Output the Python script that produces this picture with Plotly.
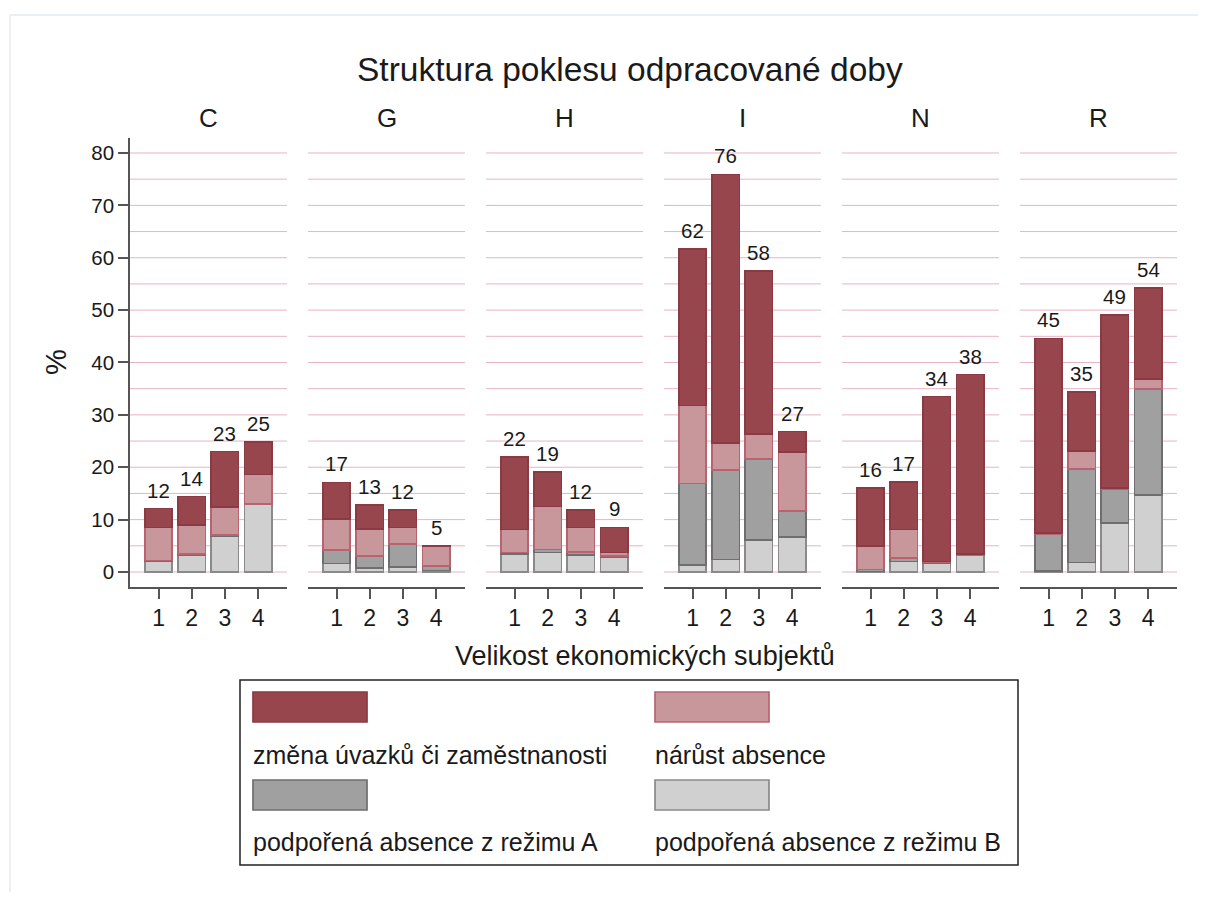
import plotly.graph_objects as go

# ---------------- data ----------------
sectors = ["C", "G", "H", "I", "N", "R"]
sizes = [1, 2, 3, 4]

change_jobs = {  # změna úvazků či zaměstnanosti
    "C": [3.6, 5.4, 10.6, 6.2],
    "G": [7.0, 4.6, 3.3, 0.1],
    "H": [13.9, 6.6, 3.3, 4.8],
    "I": [29.9, 51.3, 31.1, 3.9],
    "N": [11.0, 9.1, 31.5, 34.3],
    "R": [37.2, 11.3, 33.1, 17.3],
}
absence_growth = {  # nárůst absence
    "C": [6.3, 5.5, 5.3, 5.6],
    "G": [5.9, 5.1, 3.2, 3.7],
    "H": [4.4, 8.2, 4.7, 0.6],
    "I": [14.9, 5.1, 4.8, 11.3],
    "N": [4.5, 5.4, 0.2, 0.1],
    "R": [0.1, 3.5, 0.1, 2.0],
}
regime_a = {  # podpořená absence z režimu A
    "C": [0.2, 0.3, 0.3, 0.1],
    "G": [2.6, 2.4, 4.4, 0.9],
    "H": [0.2, 0.6, 0.6, 0.2],
    "I": [15.6, 17.1, 15.5, 4.9],
    "N": [0.4, 0.7, 0.1, 0.1],
    "R": [7.1, 17.8, 6.6, 20.2],
}
regime_b = {  # podpořená absence z režimu B
    "C": [2.0, 3.2, 6.8, 12.9],
    "G": [1.6, 0.7, 0.9, 0.3],
    "H": [3.5, 3.7, 3.2, 2.9],
    "I": [1.3, 2.4, 6.1, 6.7],
    "N": [0.1, 2.0, 1.7, 3.2],
    "R": [0.2, 1.8, 9.3, 14.7],
}
total_labels = {
    "C": ["12", "14", "23", "25"],
    "G": ["17", "13", "12", "5"],
    "H": ["22", "19", "12", "9"],
    "I": ["62", "76", "58", "27"],
    "N": ["16", "17", "34", "38"],
    "R": ["45", "35", "49", "54"],
}
series_names = [
    "změna úvazků či zaměstnanosti",
    "nárůst absence",
    "podpořená absence z režimu A",
    "podpořená absence z režimu B",
]
y_ticks = [0, 10, 20, 30, 40, 50, 60, 70, 80]
grid_values = list(range(0, 81, 5))

# ---------------- style ----------------
OFF = 8                      # default page body margin
W, H = 1206 - 2 * OFF, 900 - 2 * OFF
FONT = "Arial, Liberation Sans, sans-serif"
TXT = "#1a1a1a"
GRID = "#e8b3c3"
AXC = "#555555"
fills = {"chg": "#98464e", "abs": "#c8979b", "A": "#a0a0a0", "B": "#d0d0d0"}
lines = {"chg": "#8a3a44", "abs": "#b86470", "A": "#6e6e6e", "B": "#8a8a8a"}


def px(x):
    return (x - OFF) / W


def py(y):
    return 1 - (y - OFF) / H


fig = go.Figure()
panel_left0, panel_step, panel_w = 130, 178, 157
y_bottom_px, y_top_px = 587, 138

stack = [("B", regime_b), ("A", regime_a), ("abs", absence_growth), ("chg", change_jobs)]
shapes = []
annotations = []

for i, s in enumerate(sectors):
    xa = "x" if i == 0 else f"x{i+1}"
    ya = "y" if i == 0 else f"y{i+1}"
    for key, d in stack:
        fig.add_trace(go.Bar(
            x=sizes, y=d[s], xaxis=xa, yaxis=ya, width=0.82,
            marker=dict(color=fills[key], line=dict(color=lines[key], width=1.7)),
            showlegend=False, hoverinfo="skip",
        ))
    totals = [regime_b[s][k] + regime_a[s][k] + absence_growth[s][k] + change_jobs[s][k] for k in range(4)]
    for k in range(4):
        annotations.append(dict(text=total_labels[s][k], x=sizes[k], y=totals[k], xref=xa, yref=ya,
                                showarrow=False, yanchor="bottom", xanchor="center", yshift=5,
                                font=dict(size=20.5, color=TXT, family=FONT)))
    # horizontal grid lines (every 5 %)
    for v in grid_values:
        shapes.append(dict(type="line", xref=f"{xa} domain", yref=ya, x0=0, x1=1, y0=v, y1=v,
                           line=dict(color=GRID, width=1), layer="below"))
    left = panel_left0 + i * panel_step
    dom = [px(left), px(left + panel_w)]
    xkey = "xaxis" if i == 0 else f"xaxis{i+1}"
    ykey = "yaxis" if i == 0 else f"yaxis{i+1}"
    fig.layout[xkey] = dict(
        domain=dom, anchor=ya, range=[0.14, 4.87],
        tickvals=sizes, ticktext=[str(v) for v in sizes],
        ticks="outside", ticklen=10, tickwidth=1.5, tickcolor=AXC,
        showline=True, linecolor=AXC, linewidth=1.5,
        showgrid=False, zeroline=False,
        tickfont=dict(size=23, color=TXT, family=FONT),
        fixedrange=True,
    )
    ydict = dict(
        domain=[py(y_bottom_px), py(y_top_px)], anchor=xa,
        range=[-2.864, 82.86],
        tickvals=y_ticks, showgrid=False,
        zeroline=False, fixedrange=True,
    )
    if i == 0:
        ydict.update(showline=True, linecolor=AXC, linewidth=1.5,
                     ticks="outside", ticklen=10, tickwidth=1.5, tickcolor=AXC,
                     tickfont=dict(size=20.5, color=TXT, family=FONT))
    else:
        ydict.update(showline=False, ticks="", showticklabels=False, matches="y")
    fig.layout[ykey] = ydict

# title
annotations.append(dict(text="Struktura poklesu odpracované doby", x=px(630), y=py(70),
                        xref="paper", yref="paper", showarrow=False,
                        font=dict(size=33.5, color=TXT, family=FONT), xanchor="center", yanchor="middle"))
# panel titles
for i, s in enumerate(sectors):
    left = panel_left0 + i * panel_step
    annotations.append(dict(text=s, x=px(left + panel_w / 2), y=py(118), xref="paper", yref="paper",
                            showarrow=False, font=dict(size=26, color=TXT, family=FONT),
                            xanchor="center", yanchor="middle"))
# axis titles
annotations.append(dict(text="Velikost ekonomických subjektů", x=px(645), y=py(656),
                        xref="paper", yref="paper", showarrow=False,
                        font=dict(size=27, color=TXT, family=FONT), xanchor="center", yanchor="middle"))
annotations.append(dict(text="%", x=px(56), y=py(362), xref="paper", yref="paper", showarrow=False,
                        textangle=-90, font=dict(size=29, color=TXT, family=FONT),
                        xanchor="center", yanchor="middle"))

# faint outer frame (top and left edges)
shapes.append(dict(type="line", xref="paper", yref="paper", x0=px(10), x1=1, y0=py(15), y1=py(15),
                   line=dict(color="#e9eff2", width=2)))
shapes.append(dict(type="line", xref="paper", yref="paper", x0=px(10), x1=px(10), y0=py(15), y1=0,
                   line=dict(color="#e9eff2", width=2)))
# legend box
shapes.append(dict(type="rect", xref="paper", yref="paper", x0=px(240), x1=px(1018), y0=py(680), y1=py(865),
                   line=dict(color="#222222", width=1.5), fillcolor="rgba(0,0,0,0)"))
legend_keys = ["chg", "abs", "A", "B"]
leg_pos = [(253, 692, 755), (655, 692, 755), (253, 780, 842), (655, 780, 842)]
for key, name, (lx, sy, ty) in zip(legend_keys, series_names, leg_pos):
    shapes.append(dict(type="rect", xref="paper", yref="paper", x0=px(lx), x1=px(lx + 114),
                       y0=py(sy + 30), y1=py(sy), fillcolor=fills[key],
                       line=dict(color=lines[key], width=1.7)))
    annotations.append(dict(text=name, x=px(lx - 2), y=py(ty), xref="paper", yref="paper",
                            showarrow=False, font=dict(size=25, color=TXT, family=FONT),
                            xanchor="left", yanchor="middle"))

fig.update_layout(
    width=W, height=H, margin=dict(l=0, r=0, t=0, b=0),
    paper_bgcolor="white", plot_bgcolor="white",
    barmode="stack", bargap=0.18,
    annotations=annotations, shapes=shapes,
    font=dict(family=FONT, color=TXT),
    showlegend=False,
)

fig.write_html("out.html")
